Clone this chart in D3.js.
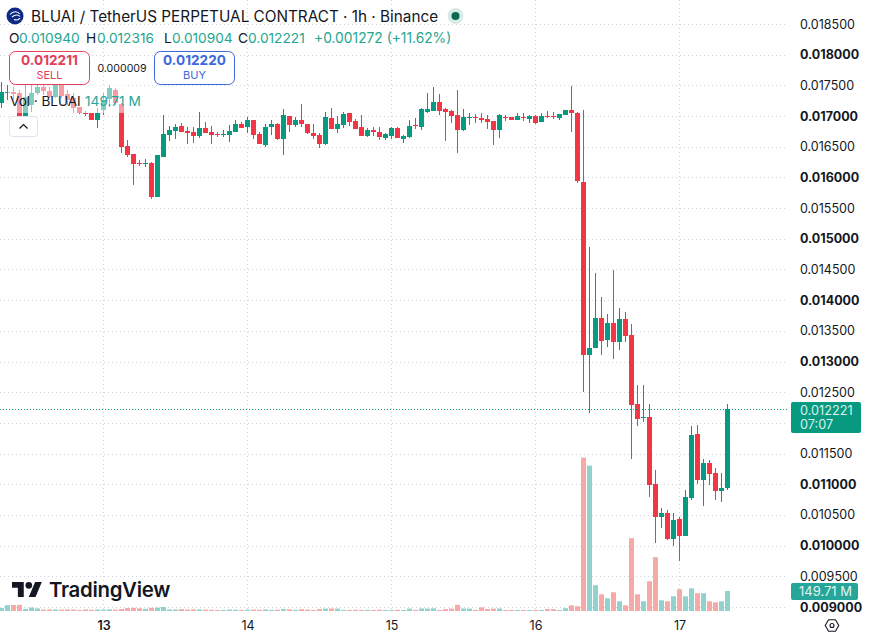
<!DOCTYPE html>
<html>
<head>
<meta charset="utf-8">
<title>BLUAI / TetherUS 1h</title>
<script src="https://cdnjs.cloudflare.com/ajax/libs/d3/7.9.0/d3.min.js"></script>
<style>
  html, body { margin: 0; padding: 0; background: #fff; }
  svg { display: block; font-family: Inter, "Noto Sans", sans-serif; }
</style>
</head>
<body>
<svg id="chart" width="874" height="639"></svg>
<script>
// Hourly candles, oldest first; the first day tick (13) falls on the 18th candle.
const opens = [0.017212,0.017391,0.017384,0.017375,0.017000,0.017179,0.017375,0.017473,0.017408,0.017310,0.017506,0.017359,0.017294,0.017147,0.017049,0.017049,0.016935,0.017098,0.017277,0.017424,0.017196,0.016511,0.016381,0.016234,0.016218,0.016234,0.015680,0.016332,0.016691,0.016756,0.016837,0.016756,0.016739,0.016674,0.016805,0.016739,0.016707,0.016691,0.016691,0.016739,0.016870,0.016821,0.016935,0.016707,0.016527,0.016821,0.016870,0.016625,0.017000,0.016853,0.016935,0.016870,0.016723,0.016691,0.016544,0.016968,0.016788,0.016853,0.017049,0.016919,0.016821,0.016674,0.016772,0.016739,0.016642,0.016674,0.016805,0.016625,0.016658,0.016861,0.016821,0.017065,0.017082,0.017228,0.017114,0.017082,0.017016,0.016772,0.016968,0.016984,0.016968,0.016951,0.016919,0.016772,0.016984,0.016984,0.016935,0.016984,0.016951,0.017000,0.016902,0.017000,0.017000,0.016968,0.017016,0.017098,0.017049,0.015924,0.013104,0.013219,0.013708,0.013349,0.013626,0.013316,0.013691,0.013431,0.012306,0.012078,0.012094,0.011002,0.010464,0.010529,0.010105,0.010431,0.010154,0.010774,0.011817,0.011067,0.011344,0.011181,0.010888,0.010940];
const highs = [0.017554,0.017506,0.017473,0.017424,0.017506,0.017506,0.017522,0.017554,0.017473,0.017620,0.017554,0.017424,0.017375,0.017147,0.017082,0.017049,0.017131,0.017375,0.017506,0.017457,0.017212,0.016609,0.016381,0.016283,0.016299,0.016250,0.016364,0.017016,0.016837,0.016870,0.016886,0.016821,0.016821,0.017065,0.016902,0.016837,0.016739,0.016772,0.016853,0.016935,0.016902,0.016984,0.016935,0.016739,0.016870,0.016935,0.016886,0.017114,0.017000,0.016984,0.017196,0.016870,0.016870,0.016723,0.017065,0.017131,0.017000,0.017065,0.017049,0.016951,0.017016,0.016805,0.016821,0.016821,0.016723,0.016821,0.016821,0.016691,0.016935,0.016968,0.017131,0.017375,0.017473,0.017359,0.017131,0.017098,0.017424,0.017114,0.017049,0.017033,0.017049,0.017016,0.016919,0.017033,0.017016,0.016984,0.017049,0.017049,0.017016,0.017016,0.017049,0.017082,0.017065,0.017033,0.017098,0.017489,0.017065,0.017098,0.014865,0.014441,0.014050,0.013773,0.014490,0.013871,0.013805,0.013610,0.012615,0.012615,0.012306,0.011230,0.010611,0.010578,0.010529,0.010464,0.010904,0.011947,0.011963,0.011409,0.011393,0.011263,0.011181,0.012316];
const lows = [0.017131,0.017261,0.017261,0.016886,0.016968,0.017065,0.017343,0.017343,0.017294,0.017294,0.017294,0.017179,0.017049,0.017033,0.017000,0.016935,0.016805,0.017016,0.017147,0.017179,0.016397,0.016332,0.015876,0.016185,0.016169,0.015647,0.015680,0.016332,0.016593,0.016625,0.016739,0.016544,0.016560,0.016642,0.016723,0.016544,0.016658,0.016658,0.016576,0.016739,0.016805,0.016723,0.016625,0.016544,0.016495,0.016691,0.016609,0.016364,0.016739,0.016821,0.016821,0.016707,0.016625,0.016479,0.016527,0.016788,0.016723,0.016805,0.016837,0.016788,0.016674,0.016658,0.016674,0.016609,0.016609,0.016625,0.016642,0.016560,0.016642,0.016788,0.016772,0.017049,0.017082,0.017016,0.016593,0.016886,0.016397,0.016756,0.016853,0.016886,0.016886,0.016788,0.016527,0.016642,0.016919,0.016935,0.016935,0.016919,0.016886,0.016870,0.016902,0.016968,0.016951,0.016935,0.017016,0.016739,0.015908,0.012501,0.012159,0.013219,0.013104,0.013235,0.013039,0.013186,0.013316,0.011409,0.011947,0.012012,0.010790,0.010040,0.010285,0.010089,0.009991,0.009747,0.010154,0.010741,0.011002,0.010643,0.010985,0.010741,0.010708,0.010904];
const closes = [0.017391,0.017400,0.017367,0.017000,0.017310,0.017375,0.017473,0.017408,0.017310,0.017506,0.017326,0.017261,0.017131,0.017049,0.017033,0.016943,0.017049,0.017261,0.017457,0.017212,0.016495,0.016364,0.016218,0.016218,0.016234,0.015680,0.016364,0.016707,0.016772,0.016821,0.016739,0.016723,0.016674,0.016805,0.016723,0.016691,0.016691,0.016707,0.016756,0.016870,0.016805,0.016935,0.016691,0.016544,0.016821,0.016870,0.016625,0.017016,0.016853,0.016935,0.016870,0.016723,0.016674,0.016544,0.016984,0.016788,0.016870,0.017033,0.016902,0.016788,0.016674,0.016772,0.016739,0.016658,0.016707,0.016805,0.016642,0.016674,0.016837,0.016845,0.017114,0.017114,0.017228,0.017082,0.017065,0.017000,0.016772,0.016984,0.016984,0.016968,0.016935,0.016902,0.016772,0.017016,0.016968,0.016935,0.017000,0.016968,0.017000,0.016886,0.017000,0.016984,0.016984,0.017033,0.017098,0.017049,0.015941,0.013104,0.013219,0.013708,0.013333,0.013626,0.013316,0.013691,0.013414,0.012290,0.012061,0.012094,0.010985,0.010464,0.010529,0.010105,0.010415,0.010154,0.010790,0.011800,0.011067,0.011344,0.011165,0.010888,0.010940,0.012221];
// Volume per candle, in millions of BLUAI.
const volumes = [22,44,45,46,15,26,19,11,12,11,10,12,11,8,12,9,12,11,12,10,15,22,24,20,16,24,26,30,12,11,14,11,13,12,10,9,8,8,11,10,8,11,11,9,12,9,10,14,13,9,14,11,8,15,18,19,18,9,8,9,8,9,8,10,8,8,9,8,18,9,19,18,20,8,15,18,46,19,18,8,27,15,18,19,8,8,8,8,8,8,8,15,14,8,21,43,36,1148,1088,193,125,95,140,73,43,545,125,73,223,403,80,73,110,163,110,170,133,133,73,65,73,149.71];

const priceTicks = [0.0185,0.018,0.0175,0.017,0.0165,0.016,0.0155,0.015,0.0145,0.014,0.0135,0.013,0.0125,0.012,0.0115,0.011,0.0105,0.01,0.0095,0.009];
const dayTickIndex = [17,41,65,89,113];
const dayTickLabels = ["13","14","15","16","17"];

const ohlcRow = [
  ["O", "0.010940"], ["H", "0.012316"], ["L", "0.010904"], ["C", "0.012221"]
];
const lastPrice = 0.012221;
const lastVolume = 149.71;

const UP = "#089981", DOWN = "#f23645";
const VOL_UP = "#92d2cc", VOL_DOWN = "#f7a9a7";
const INK = "#131722";

const candles = opens.map((o, i) => ({ i, o, h: highs[i], l: lows[i], c: closes[i], v: volumes[i], up: closes[i] >= o }));

const svg = d3.select("#chart");
const x = d3.scaleLinear().domain([0, candles.length - 1]).range([1.5, 727.5]);
const y = d3.scaleLinear().domain([0.009, 0.0185]).range([607, 24]);
const yVol = d3.scaleLinear().domain([0, lastVolume]).range([611, 591]);

const PANE_RIGHT = 788, PANE_BOTTOM = 611;

// Dotted grid
const grid = svg.append("g").attr("fill", "none").attr("stroke", "#d1d4dc").attr("stroke-dasharray", "1 3");
grid.selectAll("line.h").data(priceTicks).join("line").attr("class", "h")
  .attr("x1", 0).attr("x2", PANE_RIGHT)
  .attr("y1", d => Math.round(y(d)) + 0.5).attr("y2", d => Math.round(y(d)) + 0.5);
grid.selectAll("line.v").data(dayTickIndex).join("line").attr("class", "v")
  .attr("x1", d => Math.floor(x(d)) + 0.5).attr("x2", d => Math.floor(x(d)) + 0.5)
  .attr("y1", 0).attr("y2", PANE_BOTTOM);

// Volume bars sit under the candles
svg.append("g").selectAll("rect").data(candles).join("rect")
  .attr("x", d => x(d.i) - 2.5).attr("width", 5)
  .attr("y", d => yVol(d.v)).attr("height", d => yVol(0) - yVol(d.v))
  .attr("fill", d => d.up ? VOL_UP : VOL_DOWN);

// Candles: one pixel wick, five pixel body
const candleG = svg.append("g").attr("shape-rendering", "crispEdges");
candleG.selectAll("rect.wick").data(candles).join("rect").attr("class", "wick")
  .attr("x", d => x(d.i) - 0.5).attr("width", 1)
  .attr("y", d => y(d.h)).attr("height", d => Math.max(1, y(d.l) - y(d.h)))
  .attr("fill", d => d.up ? UP : DOWN);
candleG.selectAll("rect.body").data(candles).join("rect").attr("class", "body")
  .attr("x", d => x(d.i) - 2.5).attr("width", 5)
  .attr("y", d => y(Math.max(d.o, d.c)))
  .attr("height", d => Math.max(1, Math.abs(y(d.o) - y(d.c))))
  .attr("fill", d => d.up ? UP : DOWN);

// Last price line
svg.append("line")
  .attr("x1", 0).attr("x2", PANE_RIGHT)
  .attr("y1", Math.round(y(lastPrice)) + 0.5).attr("y2", Math.round(y(lastPrice)) + 0.5)
  .attr("stroke", UP).attr("stroke-dasharray", "1 2");

// Legend backdrop washes out whatever runs beneath the volume caption
svg.append("rect").attr("x", 8).attr("y", 85).attr("width", 119).attr("height", 28)
  .attr("fill", "#fff").attr("fill-opacity", 0.5);

// Price axis; the last-price badge takes the place of the 0.012000 label
const yAxis = d3.axisRight(y).tickValues(priceTicks.filter(d => d !== 0.012)).tickSize(0).tickPadding(0).tickFormat(d3.format(".6f"));
const yAxisG = svg.append("g").attr("transform", "translate(800,0)").call(yAxis);
yAxisG.select(".domain").remove();
yAxisG.selectAll("text")
  .attr("font-family", "Inter, sans-serif").attr("font-size", 12.5).attr("fill", INK)
  .attr("font-weight", d => Math.round(d * 1e6) % 1000 === 0 ? 700 : 400);

// Time axis
const xAxis = d3.axisBottom(x).tickValues(dayTickIndex).tickSize(0).tickPadding(0)
  .tickFormat((d, i) => dayTickLabels[i]);
const xAxisG = svg.append("g").attr("transform", "translate(0,621)").call(xAxis);
xAxisG.select(".domain").remove();
xAxisG.selectAll("text")
  .attr("font-family", "Inter, sans-serif").attr("font-size", 12.5).attr("fill", INK)
  .attr("font-weight", (d, i) => i === 0 ? 600 : 400);

// Axis badges
const priceBadge = svg.append("g");
priceBadge.append("rect").attr("x", 791).attr("y", 402).attr("width", 70).attr("height", 31).attr("rx", 2).attr("fill", UP);
priceBadge.append("text").attr("x", 800).attr("y", 415).attr("font-size", 12.7).attr("fill", "#d9f2ec").text(d3.format(".6f")(lastPrice));
priceBadge.append("text").attr("x", 800).attr("y", 429).attr("font-size", 12.7).attr("fill", "#d9f2ec").text("07:07");

const volBadge = svg.append("g");
volBadge.append("rect").attr("x", 791).attr("y", 583).attr("width", 67).attr("height", 17).attr("rx", 2).attr("fill", "#26a69a");
volBadge.append("text").attr("x", 799).attr("y", 596).attr("font-size", 13).attr("fill", "#e3f5f2").text(lastVolume + " M");

// Title row
const logo = svg.append("g").attr("transform", "translate(15,16)");
logo.append("circle").attr("r", 8.5).attr("fill", "#0d2a86");
logo.append("path").attr("d", "M-5 -1.5 C-2 -5 3 -5 4.5 -2 M-3 1 C0 -1.5 3.5 -1.5 5 0.5 M-1 3.5 C1.5 4.5 4 3.5 5 2")
  .attr("fill", "none").attr("stroke", "#fff").attr("stroke-width", 1.1);

svg.append("text").attr("x", 31).attr("y", 21.5).attr("font-size", 15.3).attr("fill", INK)
  .text("BLUAI / TetherUS PERPETUAL CONTRACT · 1h · Binance");
svg.append("circle").attr("cx", 455.5).attr("cy", 16).attr("r", 8).attr("fill", "#d8ece7");
svg.append("circle").attr("cx", 455.5).attr("cy", 16).attr("r", 4).attr("fill", "#0b6b52");

// OHLC row
const ohlcLabelX = [9, 86, 164, 238], ohlcValueX = [19, 97, 172, 248];
ohlcRow.forEach(([k, v], i) => {
  svg.append("text").attr("x", ohlcLabelX[i]).attr("y", 43).attr("font-size", 13.7).attr("fill", INK).text(k);
  svg.append("text").attr("x", ohlcValueX[i]).attr("y", 43).attr("font-size", 13.7).attr("fill", "#22a68f").text(v);
});
svg.append("text").attr("x", 314).attr("y", 43).attr("font-size", 13.8).attr("fill", "#22a68f").text("+0.001272 (+11.62%)");

// Sell and buy boxes
const quote = (left, color, soft, price, side) => {
  const g = svg.append("g");
  g.append("rect").attr("x", left + 0.5).attr("y", 51.5).attr("width", 80).attr("height", 33).attr("rx", 6)
    .attr("fill", "#fff").attr("stroke", color);
  g.append("text").attr("x", left + 40.5).attr("y", 65).attr("text-anchor", "middle")
    .attr("font-size", 13.6).attr("font-weight", 700).attr("fill", color).text(price);
  g.append("text").attr("x", left + 40.5).attr("y", 79).attr("text-anchor", "middle")
    .attr("font-size", 11).attr("fill", soft).text(side);
};
quote(9, "#e0405a", "#e0405a", "0.012211", "SELL");
quote(154, "#3f68dc", "#3f68dc", "0.012220", "BUY");
svg.append("text").attr("x", 122).attr("y", 72).attr("text-anchor", "middle").attr("font-size", 10.6).attr("fill", INK).text("0.000009");

// Volume caption and collapse button
svg.append("text").attr("x", 10).attr("y", 106).attr("font-size", 13.5).attr("fill", INK).text("Vol · BLUAI");
svg.append("text").attr("x", 85).attr("y", 106).attr("font-size", 13.7).attr("fill", "#26a69a").text(lastVolume + " M");
svg.append("rect").attr("x", 9.5).attr("y", 116.5).attr("width", 28).attr("height", 20).attr("rx", 3)
  .attr("fill", "#fff").attr("stroke", "#e0e3eb");
svg.append("path").attr("d", "M19.5 128.5 L23.5 124.5 L27.5 128.5").attr("fill", "none").attr("stroke", INK).attr("stroke-width", 1.2);

// TradingView mark
const mark = svg.append("g").attr("transform", "translate(12,578.6) scale(0.84)").attr("fill", "#131722");
mark.append("path").attr("d", "M14 22H7V11H0V4h14v18zM28 22h-8l7.5-18h8L28 22z");
mark.append("circle").attr("cx", 20).attr("cy", 8).attr("r", 4);
svg.append("text").attr("x", 49).attr("y", 597).attr("font-size", 20.4).attr("font-weight", 600)
  .attr("letter-spacing", -0.3).attr("fill", "#131722").text("TradingView");

// Settings glyph
const gear = svg.append("g").attr("transform", "translate(832,625.5)").attr("fill", "none").attr("stroke", INK).attr("stroke-width", 1.1);
gear.append("path").attr("d", "M-6.8 0 L-3.4 -5.8 L3.4 -5.8 L6.8 0 L3.4 5.8 L-3.4 5.8 Z");
gear.append("circle").attr("r", 2);
</script>
</body>
</html>
